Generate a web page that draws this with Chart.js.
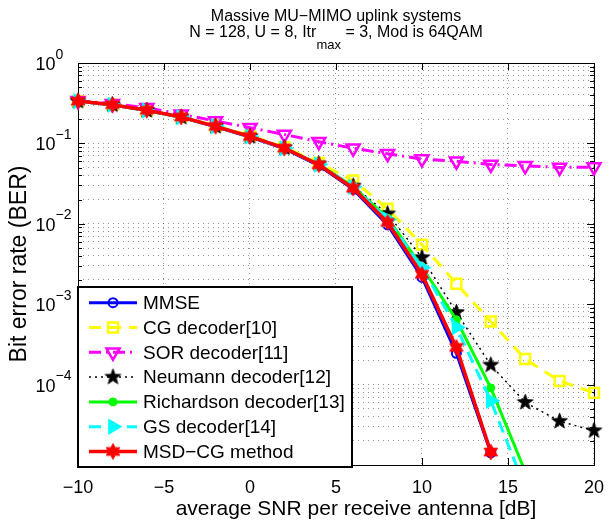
<!DOCTYPE html>
<html>
<head>
<meta charset="utf-8">
<script src="https://cdn.jsdelivr.net/npm/chart.js@4.4.1/dist/chart.umd.min.js"></script>
<style>
  html, body { margin: 0; padding: 0; background: #fff; }
  #wrap { width: 616px; height: 525px; }
</style>
</head>
<body>
<div id="wrap"><canvas id="berChart" width="616" height="525"></canvas></div>
<script>
// SNR grid of the simulation (dB)
const snrDb = [-10, -8, -6, -4, -2, 0, 2, 4, 6, 8, 10, 12, 14, 16, 18, 20];

// BER; null = nothing plotted (zero errors)
const berMmse       = [0.334, 0.301, 0.256, 0.211, 0.161, 0.120, 0.086, 0.0530, 0.0268, 0.0097, 2.15e-3, 2.45e-4, 1.42e-5, null, null, null];
const berCg         = [0.336, 0.303, 0.259, 0.215, 0.166, 0.125, 0.090, 0.0570, 0.0346, 0.0154, 5.5e-3, 1.80e-3, 6.1e-4, 2.08e-4, 1.11e-4, 7.9e-5];
const berSor        = [0.340, 0.312, 0.278, 0.230, 0.190, 0.157, 0.129, 0.105, 0.0870, 0.0744, 0.0638, 0.0600, 0.0547, 0.0527, 0.0502, 0.0507];
const berNeumann    = [0.335, 0.302, 0.257, 0.212, 0.163, 0.122, 0.088, 0.0555, 0.0295, 0.0133, 3.8e-3, 7.9e-4, 1.75e-4, 6.0e-5, 3.5e-5, 2.67e-5];
const berRichardson = [0.335, 0.302, 0.257, 0.212, 0.163, 0.122, 0.088, 0.0550, 0.0290, 0.0118, 2.9e-3, 6.4e-4, 9.1e-5, 8.3e-6, null, null];
const berGs         = [0.335, 0.302, 0.257, 0.212, 0.163, 0.122, 0.087, 0.0545, 0.0288, 0.0113, 2.85e-3, 5.15e-4, 6.3e-5, 5.2e-6, null, null];
const berMsdCg      = [0.336, 0.303, 0.258, 0.213, 0.163, 0.122, 0.0874, 0.0542, 0.0277, 0.0104, 2.35e-3, 2.9e-4, 1.45e-5, null, null, null];

const seriesNames = ["MMSE", "CG decoder[10]", "SOR decoder[11]", "Neumann decoder[12]",
                     "Richardson decoder[13]", "GS decoder[14]", "MSD\u2212CG method"];

const xTickStep = 5;
const yDecades = [0, -1, -2, -3, -4];
const yMinExp = -5;

const FONT = '"Liberation Sans", Arial, Helvetica, sans-serif';
const GRID = "rgba(0,0,0,0.42)";

// filled star markers (pentagram / hexagram) as little canvases
function starCanvas(points, outer, inner, color) {
    const size = Math.ceil(outer * 2 + 2);
    const c = document.createElement("canvas");
    c.width = size; c.height = size;
    const g = c.getContext("2d");
    g.translate(size / 2, size / 2);
    g.beginPath();
    for (let k = 0; k < points * 2; k++) {
        const r = k % 2 === 0 ? outer : inner;
        const a = -Math.PI / 2 + k * Math.PI / points;
        const px = Math.cos(a) * r, py = Math.sin(a) * r;
        if (k === 0) g.moveTo(px, py); else g.lineTo(px, py);
    }
    g.closePath();
    g.fillStyle = color;
    g.fill();
    g.lineWidth = 1;
    g.strokeStyle = color;
    g.stroke();
    return c;
}
const pentagram = starCanvas(5, 8.2, 3.3, "#000000");
const hexagram = starCanvas(6, 7.8, 4.4, "#ff0000");

const toPoints = (vals) => snrDb.map((x, i) => ({ x: x, y: vals[i] }));

const datasets = [
    { label: seriesNames[0], data: toPoints(berMmse), borderColor: "#0000ff", borderWidth: 3, borderDash: [],
      pointStyle: "circle", pointRadius: 4.5, pointBorderWidth: 2, pointBorderColor: "#0000ff", pointBackgroundColor: "rgba(0,0,0,0)" },
    { label: seriesNames[1], data: toPoints(berCg), borderColor: "#ffff00", borderWidth: 3, borderDash: [12, 8],
      pointStyle: "rect", pointRadius: 7, pointBorderWidth: 2.5, pointBorderColor: "#ffff00", pointBackgroundColor: "rgba(0,0,0,0)" },
    { label: seriesNames[2], data: toPoints(berSor), borderColor: "#ff00ff", borderWidth: 3, borderDash: [12, 5, 2, 5],
      pointStyle: "triangle", pointRotation: 180, pointRadius: 7.5, pointBorderWidth: 2.5, pointBorderColor: "#ff00ff", pointBackgroundColor: "rgba(0,0,0,0)" },
    { label: seriesNames[3], data: toPoints(berNeumann), borderColor: "#000000", borderWidth: 1.5, borderDash: [2, 4],
      pointStyle: pentagram, pointRadius: 8, pointBorderWidth: 0, pointBorderColor: "#000000", pointBackgroundColor: "#000000" },
    { label: seriesNames[4], data: toPoints(berRichardson), borderColor: "#00ff00", borderWidth: 3, borderDash: [],
      pointStyle: "circle", pointRadius: 4, pointBorderWidth: 1, pointBorderColor: "#00ff00", pointBackgroundColor: "#00ff00" },
    { label: seriesNames[5], data: toPoints(berGs), borderColor: "#00ffff", borderWidth: 3, borderDash: [12, 7],
      pointStyle: "triangle", pointRotation: 90, pointRadius: 8, pointBorderWidth: 1.5, pointBorderColor: "#00ffff", pointBackgroundColor: "#00ffff" },
    { label: seriesNames[6], data: toPoints(berMsdCg), borderColor: "#ff0000", borderWidth: 3.5, borderDash: [],
      pointStyle: hexagram, pointRadius: 8, pointBorderWidth: 0, pointBorderColor: "#ff0000", pointBackgroundColor: "#ff0000" },
];
datasets.forEach((ds, i) => {
    ds.order = datasets.length - i;   // later series on top, red last
    ds.tension = 0;
    ds.fill = false;
    ds.spanGaps = false;
    ds.clip = { left: 12, right: 12, top: 10, bottom: 0 };
});

function drawMarker(ctx, ds, x, y) {
    const st = ds.pointStyle;
    ctx.save();
    ctx.setLineDash([]);
    ctx.translate(x, y);
    if (st instanceof HTMLCanvasElement) {
        ctx.drawImage(st, -st.width / 2, -st.height / 2);
        ctx.restore();
        return;
    }
    const r = ds.pointRadius;
    ctx.rotate((ds.pointRotation || 0) * Math.PI / 180);
    ctx.beginPath();
    if (st === "circle") {
        ctx.arc(0, 0, r, 0, Math.PI * 2);
    } else if (st === "rect") {
        const s = r * Math.SQRT1_2;
        ctx.rect(-s, -s, 2 * s, 2 * s);
    } else if (st === "triangle") {
        for (let k = 0; k < 3; k++) {
            const a = k * 2 * Math.PI / 3;
            if (k === 0) ctx.moveTo(Math.sin(a) * r, -Math.cos(a) * r);
            else ctx.lineTo(Math.sin(a) * r, -Math.cos(a) * r);
        }
        ctx.closePath();
    }
    ctx.fillStyle = ds.pointBackgroundColor;
    ctx.fill();
    ctx.lineWidth = ds.pointBorderWidth;
    ctx.strokeStyle = ds.pointBorderColor;
    ctx.stroke();
    ctx.restore();
}

const isDecade = (v) => Math.abs(Math.log10(v) - Math.round(Math.log10(v))) < 1e-9;

// MATLAB look: box, inward ticks, 10^n labels, two-line title, boxed legend
const matlabAxes = {
    id: "matlabAxes",
    beforeDatasetsDraw(chart) {
        const { ctx, chartArea: a, scales: { x, y } } = chart;
        ctx.save();
        ctx.strokeStyle = "#000";
        ctx.lineWidth = 1;
        ctx.beginPath();
        y.ticks.forEach((t) => {
            const py = Math.round(y.getPixelForValue(t.value)) + 0.5;
            if (py <= a.top + 1 || py >= a.bottom - 1) return;
            const len = isDecade(t.value) ? 7 : 4;
            ctx.moveTo(a.left, py); ctx.lineTo(a.left + len, py);
            ctx.moveTo(a.right, py); ctx.lineTo(a.right - len, py);
        });
        x.ticks.forEach((t) => {
            const px = Math.round(x.getPixelForValue(t.value)) + 0.5;
            if (px <= a.left + 1 || px >= a.right - 1) return;
            ctx.moveTo(px, a.bottom); ctx.lineTo(px, a.bottom - 7);
            ctx.moveTo(px, a.top); ctx.lineTo(px, a.top + 7);
        });
        ctx.stroke();
        ctx.strokeRect(Math.round(a.left) + 0.5, Math.round(a.top) + 0.5,
                       Math.round(a.right - a.left), Math.round(a.bottom - a.top));
        ctx.restore();
    },
    afterDraw(chart) {
        const { ctx, chartArea: a, scales: { y } } = chart;
        ctx.save();
        ctx.fillStyle = "#000";
        ctx.textBaseline = "alphabetic";
        ctx.textAlign = "left";

        // title
        const cx = (a.left + a.right) / 2;
        ctx.font = "16px " + FONT;
        const t1 = "Massive MU\u2212MIMO uplink systems";
        ctx.fillText(t1, cx - ctx.measureText(t1).width / 2, 21);
        const p1 = "N = 128, U = 8, Itr", p2 = "max", p3 = " = 3, Mod is 64QAM";
        const w1 = ctx.measureText(p1).width, w3 = ctx.measureText(p3).width;
        ctx.font = "13px " + FONT;
        const w2 = ctx.measureText(p2).width;
        let tx = cx - (w1 + w2 + w3) / 2;
        ctx.font = "16px " + FONT;
        ctx.fillText(p1, tx, 36.5);
        ctx.font = "13px " + FONT;
        ctx.fillText(p2, tx + w1, 49);
        ctx.font = "16px " + FONT;
        ctx.fillText(p3, tx + w1 + w2, 36.5);

        // x axis label (sits a little right of centre in the original)
        ctx.font = "21px " + FONT;
        ctx.textAlign = "center";
        ctx.textBaseline = "middle";
        ctx.fillText("average SNR per receive antenna [dB]", 356, 509);
        ctx.textAlign = "left";
        ctx.textBaseline = "alphabetic";

        // y tick labels 10^n
        yDecades.forEach((e) => {
            const py = y.getPixelForValue(Math.pow(10, e));
            ctx.font = "18px " + FONT;
            ctx.fillText("10", 35.5, py + 7);
            const w = ctx.measureText("10").width;
            ctx.font = "14px " + FONT;
            ctx.fillText(e === 0 ? "0" : "\u2212" + (-e), 35.5 + w, py - 4.4);
        });

        // legend box
        const lx = 78, ly = 287, lw = 274, lh = 180;
        ctx.fillStyle = "#fff";
        ctx.fillRect(lx, ly, lw, lh);
        ctx.lineWidth = 2;
        ctx.strokeStyle = "#000";
        ctx.strokeRect(lx, ly, lw, lh);
        chart.data.datasets.forEach((ds, i) => {
            const ry = 302.7 + i * 24.8;
            ctx.save();
            ctx.strokeStyle = ds.borderColor;
            ctx.lineWidth = ds.borderWidth;
            ctx.setLineDash(ds.borderDash || []);
            ctx.beginPath();
            ctx.moveTo(89, ry);
            ctx.lineTo(137, ry);
            ctx.stroke();
            ctx.restore();
            drawMarker(ctx, ds, 113, ry);
            ctx.fillStyle = "#000";
            ctx.font = "19px " + FONT;
            ctx.textBaseline = "middle";
            ctx.fillText(ds.label, 143, ry + 1);
        });
        ctx.restore();
    },
};

const yGridVals = [];
for (let e = yMinExp; e < 0; e++) {
    for (let m = 1; m <= 9; m++) yGridVals.push(m * Math.pow(10, e));
}
yGridVals.push(1);

Chart.defaults.color = "#000";
Chart.defaults.font.family = FONT;

new Chart(document.getElementById("berChart"), {
    type: "line",
    data: { datasets: datasets },
    options: {
        responsive: false,
        animation: false,
        layout: { padding: { left: 0, right: 14.5, top: 63, bottom: 0 } },
        plugins: {
            legend: { display: false },
            title: { display: false },
            tooltip: { enabled: false },
        },
        scales: {
            x: {
                type: "linear",
                min: snrDb[0],
                max: snrDb[snrDb.length - 1],
                afterFit(scale) { scale.height = 60; },
                ticks: {
                    stepSize: xTickStep,
                    padding: 12,
                    font: { size: 18 },
                    color: "#000",
                    callback: (v) => (v < 0 ? "\u2212" + Math.abs(v) : String(v)),
                },
                grid: { color: GRID, lineWidth: 1, drawTicks: false },
                border: { display: false, dash: [1, 4] },
                title: { display: false },
            },
            y: {
                type: "logarithmic",
                min: Math.pow(10, yMinExp),
                max: 1,
                afterFit(scale) { scale.width = 78; },
                afterBuildTicks(scale) { scale.ticks = yGridVals.map((v) => ({ value: v })); },
                ticks: { display: false },
                grid: { color: GRID, lineWidth: 1, drawTicks: false },
                border: { display: false, dash: [1, 4] },
                title: {
                    display: true,
                    text: "Bit error rate (BER)",
                    font: { size: 23 },
                    color: "#000",
                    padding: { top: 6, bottom: 0 },
                },
            },
        },
    },
    plugins: [matlabAxes],
});
</script>
</body>
</html>
